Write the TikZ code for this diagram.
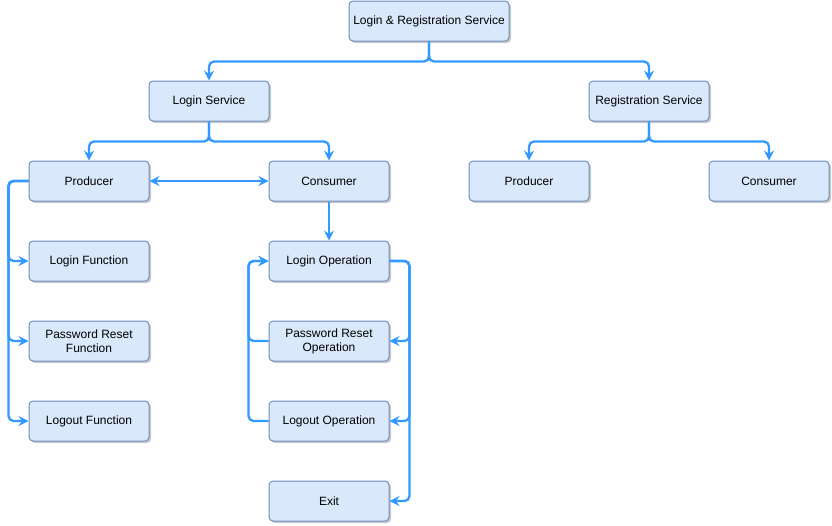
\documentclass[tikz,border=0pt]{standalone}
\usepackage{fontspec}
\setmainfont{Liberation Sans}
\usetikzlibrary{arrows.meta,shadows}
\definecolor{boxfill}{HTML}{DAE8FC}
\definecolor{boxline}{HTML}{6C8EBF}
\definecolor{flow}{HTML}{3399FF}
\begin{document}
\begin{tikzpicture}[x=1pt,y=-1pt,
  box/.style={draw=boxline, fill=boxfill, rounded corners=4pt, minimum width=120pt, minimum height=40pt,
    inner sep=0pt, align=center, font=\fontsize{12}{14}\selectfont, line width=1pt,
    drop shadow={shadow xshift=2pt, shadow yshift=-2pt, opacity=0.22, fill=black}},
  widebox/.style={box, minimum width=160pt},
  tip/.tip={Stealth[length=10pt,width=10pt,inset=3.5pt]},
  link/.style={draw=flow, line width=2.3pt, rounded corners=5pt, -tip},
  both/.style={draw=flow, line width=2.3pt, tip-tip},
]
\useasboundingbox (0,0) rectangle (832,525);

\node[widebox] (top) at (429,21) {Login \& Registration Service};
\node[box] (ls) at (209,101) {Login Service};
\node[box] (rs) at (649,101) {Registration Service};
\node[box] (prod) at (89,181) {Producer};
\node[box] (cons) at (329,181) {Consumer};
\node[box] (rprod) at (529,181) {Producer};
\node[box] (rcons) at (769,181) {Consumer};
\node[box] (lf) at (89,261) {Login Function};
\node[box] (prf) at (89,341) {Password Reset\\Function};
\node[box] (lof) at (89,421) {Logout Function};
\node[box] (lo) at (329,261) {Login Operation};
\node[box] (pro) at (329,341) {Password Reset\\Operation};
\node[box] (loo) at (329,421) {Logout Operation};
\node[box] (exit) at (329,501) {Exit};

\draw[link] (top.south) -- ++(0,20) -| (ls.north);
\draw[link] (top.south) -- ++(0,20) -| (rs.north);
\draw[link] (ls.south) -- ++(0,20) -| (prod.north);
\draw[link] (ls.south) -- ++(0,20) -| (cons.north);
\draw[link] (rs.south) -- ++(0,20) -| (rprod.north);
\draw[link] (rs.south) -- ++(0,20) -| (rcons.north);

\draw[both] (prod.east) -- (cons.west);
\draw[link] (cons.south) -- (lo.north);

\draw[link] (prod.west) -- ++(-20,0) |- (lf.west);
\draw[link] (prod.west) -- ++(-20,0) |- (prf.west);
\draw[link] (prod.west) -- ++(-20,0) |- (lof.west);

\draw[link] (lo.east) -- ++(20,0) |- (pro.east);
\draw[link] (lo.east) -- ++(20,0) |- (loo.east);
\draw[link] (lo.east) -- ++(20,0) |- (exit.east);

\draw[link] (pro.west) -- ++(-20,0) |- (lo.west);
\draw[link] (loo.west) -- ++(-20,0) |- (lo.west);
\end{tikzpicture}
\end{document}
